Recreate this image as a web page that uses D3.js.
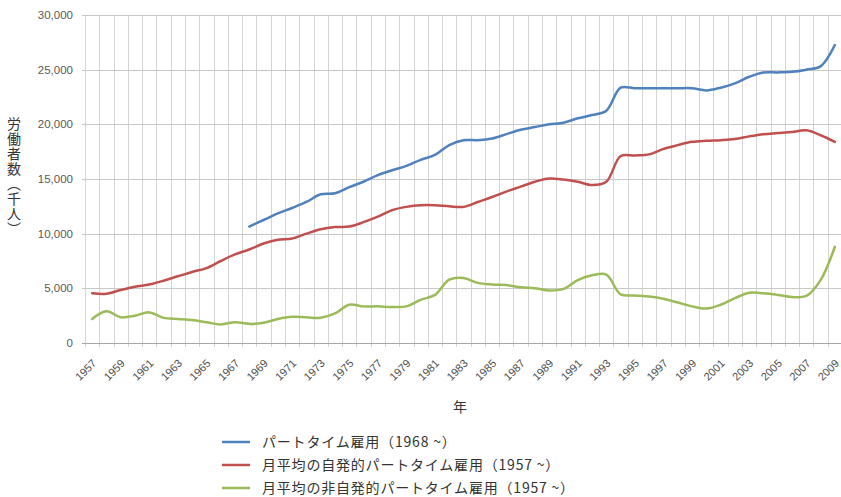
<!DOCTYPE html>
<html><head><meta charset="utf-8">
<script src="https://cdn.jsdelivr.net/npm/d3@7"></script>
<style>
html,body{margin:0;padding:0;background:#fff;overflow:hidden;}
svg{display:block;}
</style></head>
<body><svg id="c" width="841" height="497"></svg>
<script>
const years = [1957,1958,1959,1960,1961,1962,1963,1964,1965,1966,1967,1968,1969,1970,1971,1972,1973,1974,1975,1976,1977,1978,1979,1980,1981,1982,1983,1984,1985,1986,1987,1988,1989,1990,1991,1992,1993,1994,1995,1996,1997,1998,1999,2000,2001,2002,2003,2004,2005,2006,2007,2008,2009];
const partTime = [null,null,null,null,null,null,null,null,null,null,null,
  10650,11250,11850,12350,12900,13600,13700,14250,14750,15350,15800,16200,16750,17200,18100,18550,18550,18700,19100,19500,19750,20000,20150,20550,20850,21250,23350,23300,23300,23300,23300,23300,23100,23350,23750,24350,24750,24750,24800,25000,25300,27250];
const voluntary = [4550,4500,4850,5150,5350,5700,6100,6500,6850,7500,8100,8550,9100,9450,9550,10000,10400,10600,10650,11050,11550,12150,12450,12600,12600,12500,12450,12900,13350,13850,14300,14750,15050,14950,14750,14450,14750,17100,17150,17250,17750,18100,18400,18500,18550,18650,18900,19100,19200,19300,19450,19000,18400];
const involuntary = [2200,2900,2350,2500,2800,2300,2200,2100,1900,1700,1900,1750,1850,2200,2400,2350,2300,2700,3500,3350,3350,3300,3350,3950,4400,5800,5950,5500,5350,5300,5100,5000,4800,4950,5750,6200,6250,4450,4350,4250,4050,3700,3350,3150,3500,4100,4600,4550,4400,4200,4300,5750,8800];
const yTicks = [0,5000,10000,15000,20000,25000,30000];
const xLabelYears = years.filter((d,i)=>i%2===0);
const seriesNames = ["パートタイム雇用（1968 ~）","月平均の自発的パートタイム雇用（1957 ~）","月平均の非自発的パートタイム雇用（1957 ~）"];
const seriesColors = ["#4F81BD","#C0504D","#9BBB59"];
const yTitle = "労働者数（千人）";
const xTitle = "年";

const svg = d3.select("#c");
const pLeft = 85, pRight = 842, pTop = 15, pBottom = 343;
const x = d3.scaleBand().domain(years).range([pLeft, pRight]).padding(0);
const cx = d => x(d) + x.bandwidth()/2;
const y = d3.scaleLinear().domain([0,30000]).range([pBottom, pTop]);

const g = svg.append("g");
g.selectAll("line.v").data(years).join("line")
  .attr("x1", d=>Math.round(x(d))+0.5).attr("x2", d=>Math.round(x(d))+0.5)
  .attr("y1", pTop).attr("y2", pBottom+4)
  .attr("stroke", "#d4d4d4").attr("stroke-width", 1);
g.selectAll("line.h").data(yTicks.filter(d=>d>0)).join("line")
  .attr("x1", pLeft-3).attr("x2", 841)
  .attr("y1", d=>Math.round(y(d))+0.5).attr("y2", d=>Math.round(y(d))+0.5)
  .attr("stroke", "#c8c8c8").attr("stroke-width", 1);
g.append("line").attr("x1", pLeft-3).attr("x2", 841)
  .attr("y1", pBottom+0.5).attr("y2", pBottom+0.5)
  .attr("stroke", "#a6a6a6").attr("stroke-width", 1);

svg.append("g").selectAll("text").data(yTicks).join("text")
  .attr("x", 73).attr("y", d=>y(d)).attr("dy","0.35em")
  .attr("text-anchor","end")
  .attr("font-family","Liberation Sans, Arial, sans-serif")
  .attr("font-size", 11.5).attr("fill","#595959")
  .text(d=>d3.format(",")(d));

svg.append("g").selectAll("text").data(xLabelYears).join("text")
  .attr("transform", d=>`translate(${cx(d)+5},${pBottom+21}) rotate(-45)`)
  .attr("text-anchor","end")
  .attr("font-family","Liberation Sans, Arial, sans-serif")
  .attr("font-size", 11).attr("fill","#4d4d4d")
  .text(d=>d);

const allSeries = [partTime, voluntary, involuntary];
const line = d3.line()
  .defined(d=>d[1]!=null)
  .x(d=>cx(d[0])).y(d=>y(d[1]))
  .curve(d3.curveCatmullRom.alpha(0.5));
allSeries.forEach((s,i)=>{
  const pts = years.map((yr,j)=>[yr, s[j]]);
  svg.append("path").attr("d", line(pts))
    .attr("fill","none").attr("stroke", seriesColors[i])
    .attr("stroke-width", 2.5).attr("stroke-linejoin","round").attr("stroke-linecap","round");
});

svg.append("text")
  .attr("x", 14).attr("y", 177)
  .attr("text-anchor","middle")
  .attr("font-family","Noto Sans CJK JP, sans-serif")
  .attr("font-size", 14).attr("fill","#333")
  .attr("letter-spacing", 1)
  .style("writing-mode","vertical-rl")
  .text(yTitle);
svg.append("text")
  .attr("x", 460).attr("y", 412)
  .attr("text-anchor","middle")
  .attr("font-family","Noto Sans CJK JP, sans-serif")
  .attr("font-size", 14).attr("fill","#333")
  .text(xTitle);

const leg = svg.append("g");
seriesNames.forEach((n,i)=>{
  const ly = 442 + i*23;
  leg.append("line").attr("x1",222).attr("x2",250).attr("y1",ly).attr("y2",ly)
    .attr("stroke", seriesColors[i]).attr("stroke-width",2.5);
  leg.append("text").attr("x",262).attr("y",ly).attr("dy","0.35em")
    .attr("font-family","Noto Sans CJK JP, sans-serif")
    .attr("font-size",14).attr("letter-spacing",0.8).attr("fill","#333").text(n);
});
</script></body></html>
